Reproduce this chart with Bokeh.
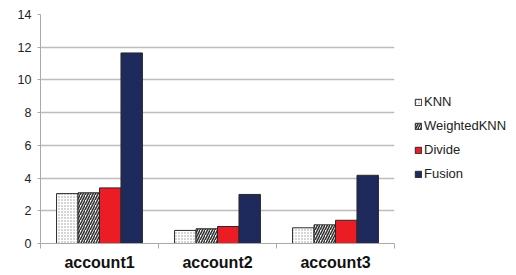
from bokeh.plotting import figure
from bokeh.models import ColumnDataSource, FixedTicker, Range1d, Legend, LegendItem
from bokeh.embed import file_html
from bokeh.resources import INLINE

accounts = ["account1", "account2", "account3"]
series = ["KNN", "WeightedKNN", "Divide", "Fusion"]
knn = [3.05, 0.8, 0.96]
weighted_knn = [3.1, 0.9, 1.14]
divide = [3.4, 1.04, 1.42]
fusion = [11.65, 3.0, 4.17]
values = [knn, weighted_knn, divide, fusion]

fills = ["#ffffff", "#ffffff", "#ec1c24", "#1f2a5c"]
hatches = [".", "/", " ", " "]
hatch_colors = ["#999999", "#333333", None, None]

p = figure(width=508, height=267, output_backend="svg", toolbar_location=None,
           x_range=Range1d(0, 3), y_range=Range1d(0, 14),
           min_border_left=40, min_border_top=14, min_border_bottom=24, min_border_right=114,
           frame_width=354, frame_height=229)
p.outline_line_color = None
p.background_fill_color = "white"
p.border_fill_color = "white"

bar_w = 0.182
offsets = [-1.5 * bar_w, -0.5 * bar_w, 0.5 * bar_w, 1.5 * bar_w]
items = []
for i, name in enumerate(series):
    src = ColumnDataSource(dict(x=[k + 0.5 + offsets[i] for k in range(len(accounts))], top=values[i]))
    kw = {}
    if hatches[i] != " ":
        kw = dict(hatch_pattern=hatches[i], hatch_color=hatch_colors[i],
                  hatch_scale=3 if i == 0 else 5, hatch_weight=1 if i == 0 else 1.6)
    r = p.vbar(x="x", top="top", width=bar_w, bottom=0, source=src,
               fill_color=fills[i], line_color="#2a2a2a", line_width=1, **kw)
    items.append(LegendItem(label=name, renderers=[r]))

legend = Legend(items=items, location=(20, 62), border_line_color=None, background_fill_alpha=0,
                glyph_width=8, glyph_height=8, label_text_font="Liberation Sans",
                label_text_font_size="13px", label_text_color="#222222",
                spacing=9, label_height=14, label_standoff=2, padding=0, margin=0)
p.add_layout(legend, "right")

# x axis
p.xaxis.ticker = FixedTicker(ticks=[0.5, 1.5, 2.5], minor_ticks=[0, 1, 2, 3])
p.xaxis.major_label_overrides = {0.5: accounts[0], 1.5: accounts[1], 2.5: accounts[2]}
p.xaxis.major_tick_line_color = None
p.xaxis.minor_tick_line_color = "#aaaaaa"
p.xaxis.minor_tick_out = 5
p.xaxis.minor_tick_in = 0
p.xaxis.axis_line_color = "#aaaaaa"
p.xaxis.major_label_text_font = "Liberation Sans"
p.xaxis.major_label_text_font_style = "bold"
p.xaxis.major_label_text_font_size = "16px"
p.xaxis.major_label_text_color = "#111111"
p.xaxis.major_label_standoff = 4
p.xgrid.grid_line_color = None

# y axis
p.yaxis.ticker = FixedTicker(ticks=[0, 2, 4, 6, 8, 10, 12, 14])
p.yaxis.axis_line_color = "#aaaaaa"
p.yaxis.major_tick_line_color = "#aaaaaa"
p.yaxis.major_tick_out = 3
p.yaxis.major_tick_in = 0
p.yaxis.minor_tick_line_color = None
p.yaxis.major_label_text_font = "Liberation Sans"
p.yaxis.major_label_text_font_size = "12.5px"
p.yaxis.major_label_text_color = "#222222"
p.yaxis.major_label_standoff = 6
p.ygrid.grid_line_color = "#bdbdbd"
p.ygrid.grid_line_width = 1.3

open("out.html", "w").write(file_html(p, INLINE))
